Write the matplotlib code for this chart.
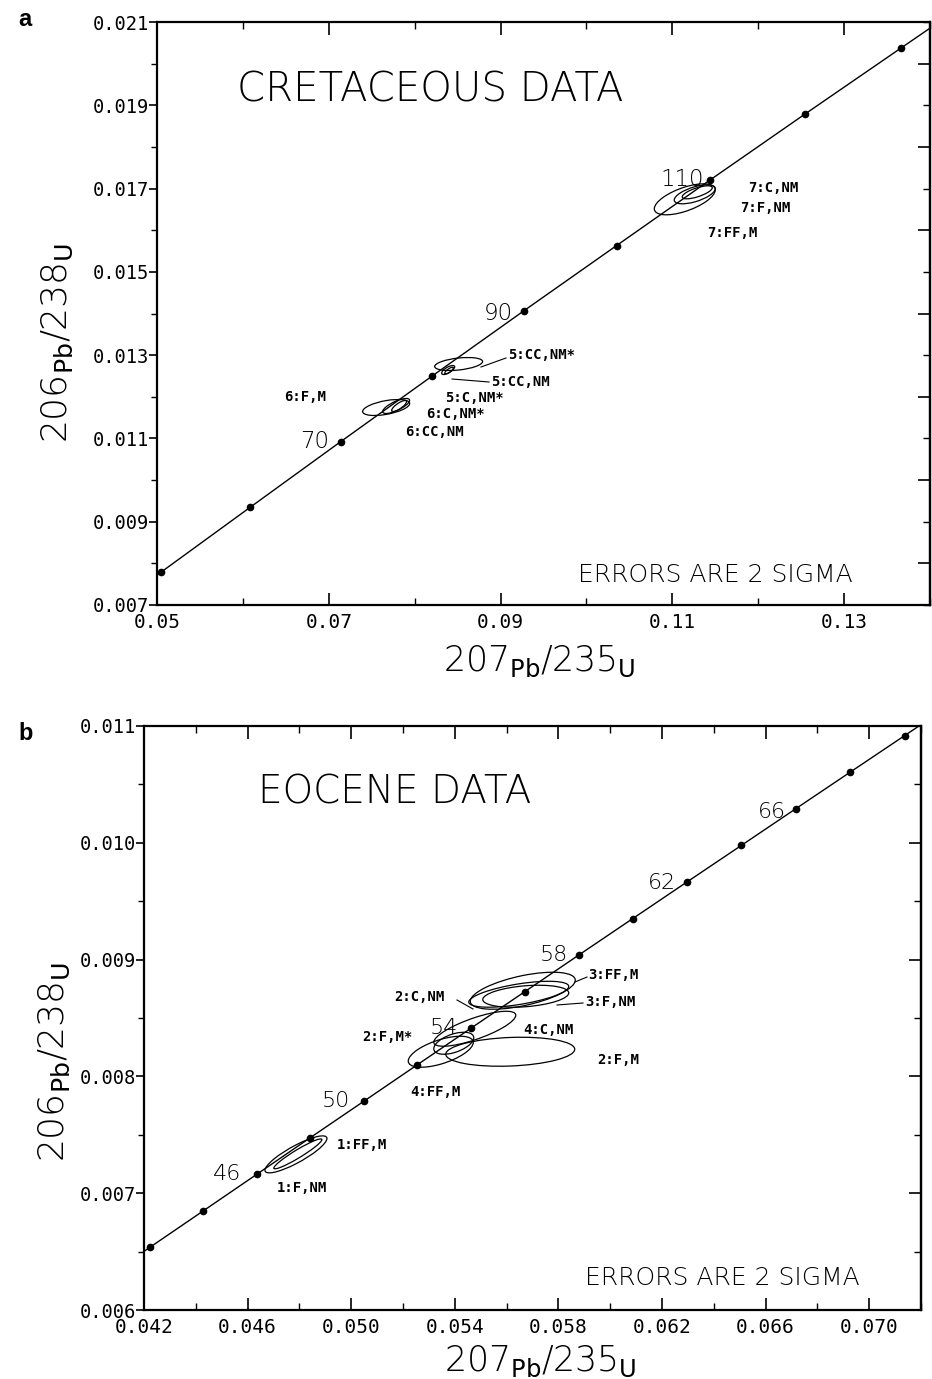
import numpy as np
import matplotlib
matplotlib.use("Agg")
import matplotlib.pyplot as plt
from matplotlib.patches import Ellipse
from matplotlib.lines import Line2D
from matplotlib.ticker import MultipleLocator, FormatStrFormatter

# concordia points (Ma, 207Pb/235U, 206Pb/238U)
ages_a = [40, 50, 60, 70, 80, 90, 100, 110, 120, 130, 140]
x_a = [0.04018, 0.05048, 0.06087, 0.07137, 0.08198, 0.09268, 0.10350, 0.11442, 0.12545, 0.13659, 0.14784]
y_a = [0.00622, 0.00779, 0.00935, 0.01092, 0.01249, 0.01406, 0.01563, 0.01721, 0.01879, 0.02037, 0.02196]

ages_b = [40, 42, 44, 46, 48, 50, 52, 54, 56, 58, 60, 62, 64, 66, 68, 70, 72]
x_b = [0.04018, 0.04223, 0.04429, 0.04635, 0.04841, 0.05048, 0.05255, 0.05462, 0.05670, 0.05878,
       0.06087, 0.06296, 0.06506, 0.06716, 0.06926, 0.07137, 0.07348]
y_b = [0.006224, 0.006537, 0.006849, 0.007161, 0.007474, 0.007786, 0.008099, 0.008412, 0.008725, 0.009038,
       0.009351, 0.009664, 0.009977, 0.010291, 0.010604, 0.010918, 0.011232]

# error ellipses: centre, 2-sigma half widths, correlation
ell_a_name = ["7:FF,M", "7:F,NM", "7:C,NM", "5:CC,NM*", "5:CC,NM", "5:C,NM*", "6:F,M", "6:C,NM*", "6:CC,NM"]
ell_a_x = [0.11145, 0.11261, 0.11290, 0.08512, 0.08390, 0.08400, 0.07668, 0.07784, 0.07819]
ell_a_y = [0.016742, 0.016862, 0.016910, 0.012787, 0.012643, 0.012630, 0.011743, 0.011779, 0.011779]
ell_a_sx = [0.00355, 0.00239, 0.00175, 0.00279, 0.00076, 0.00050, 0.00274, 0.00157, 0.00087]
ell_a_sy = [0.000372, 0.000228, 0.000156, 0.000156, 0.000108, 0.000080, 0.000192, 0.000180, 0.000132]
ell_a_rho = [0.61, 0.6, 0.7, 0.38, 0.7, 0.8, 0.5, 0.75, 0.8]

ell_b_name = ["3:FF,M", "2:C,NM", "3:F,NM", "4:C,NM", "2:F,M*", "4:FF,M", "2:F,M", "1:FF,M", "1:F,NM"]
ell_b_x = [0.056624, 0.056469, 0.05674, 0.054771, 0.05396, 0.053458, 0.056141, 0.047867, 0.04794]
ell_b_y = [0.0087334, 0.0087034, 0.0086863, 0.008408, 0.0082839, 0.0082111, 0.0082111, 0.0073325, 0.0073368]
ell_b_sx = [0.002027, 0.00193, 0.00166, 0.001583, 0.000772, 0.001255, 0.00249, 0.001197, 0.000927]
ell_b_sy = [0.0001584, 0.000111, 0.0000942, 0.0001498, 0.0000942, 0.0001327, 0.0001241, 0.0001584, 0.000128]
ell_b_rho = [0.57, 0.6, 0.3, 0.77, 0.5, 0.6, 0.17, 0.86, 0.95]

W, H = 932, 1379
mono = "DejaVu Sans Mono"

fig = plt.figure(figsize=(W / 100, H / 100), dpi=100)
ax_a = fig.add_axes([157 / W, 1 - 605 / H, 773 / W, 583 / H])
ax_b = fig.add_axes([144 / W, 1 - 1310 / H, 777 / W, 584 / H])


def draw_ellipses(ax, xs, ys, sxs, sys_, rhos):
    for x, y, sx, sy, r in zip(xs, ys, sxs, sys_, rhos):
        cov = np.array([[sx * sx, r * sx * sy], [r * sx * sy, sy * sy]])
        vals, vecs = np.linalg.eigh(cov)
        ang = np.degrees(np.arctan2(vecs[1, 1], vecs[0, 1]))
        e = Ellipse((x, y), 2 * np.sqrt(vals[1]), 2 * np.sqrt(vals[0]), angle=ang,
                    fill=False, lw=0.9, ec="black")
        ax.add_patch(e)


def style_axes(ax, xlim, ylim, xmaj, xmin, ymaj, ymin, xfmt, yfmt):
    ax.set_xlim(*xlim)
    ax.set_ylim(*ylim)
    ax.xaxis.set_major_locator(MultipleLocator(xmaj))
    ax.xaxis.set_minor_locator(MultipleLocator(xmin))
    ax.yaxis.set_major_locator(MultipleLocator(ymaj))
    ax.yaxis.set_minor_locator(MultipleLocator(ymin))
    ax.xaxis.set_major_formatter(FormatStrFormatter(xfmt))
    ax.yaxis.set_major_formatter(FormatStrFormatter(yfmt))
    ax.tick_params(axis="x", which="both", direction="in", top=True, bottom=True, pad=6)
    ax.tick_params(axis="x", which="major", length=9, width=1.2)
    ax.tick_params(axis="x", which="minor", length=5, width=1.0)
    ax.tick_params(axis="y", which="both", direction="out", left=True, right=False, pad=0)
    ax.tick_params(axis="y", which="major", length=6, width=1.2)
    ax.tick_params(axis="y", which="minor", length=4, width=1.0)
    for sp in ax.spines.values():
        sp.set_linewidth(1.6)
    sec = ax.secondary_yaxis("right")
    sec.yaxis.set_major_locator(MultipleLocator(ymaj))
    sec.yaxis.set_minor_locator(MultipleLocator(ymin))
    sec.tick_params(which="both", direction="in", labelright=False)
    sec.tick_params(which="major", length=9, width=1.2)
    sec.tick_params(which="minor", length=5, width=1.0)
    sec.spines["right"].set_linewidth(1.6)


def tick_font(ax):
    for lab in ax.get_xticklabels():
        lab.set_fontfamily(mono)
        lab.set_fontsize(14)
    for lab in ax.get_yticklabels():
        lab.set_fontfamily(mono)
        lab.set_fontsize(13.5)


def ftext(px, py, s, size=10, family=mono, weight="bold", ha="left", va="center"):
    fig.text(px / W, 1 - py / H, s, fontsize=size, family=family, weight=weight, ha=ha, va=va)


def leader(p0, p1):
    fig.add_artist(Line2D([p0[0] / W, p1[0] / W], [1 - p0[1] / H, 1 - p1[1] / H],
                          transform=fig.transFigure, color="black", lw=0.8))


xlab = "207$_{\\mathrm{Pb}}$/235$_{\\mathrm{U}}$"
ylab = "206$_{\\mathrm{Pb}}$/238$_{\\mathrm{U}}$"

# ---- panel a : Cretaceous
ax = ax_a
ax.plot(x_a, y_a, "-", color="black", lw=1.0)
ax.plot(x_a, y_a, "o", color="black", ms=4.5)
draw_ellipses(ax, ell_a_x, ell_a_y, ell_a_sx, ell_a_sy, ell_a_rho)
style_axes(ax, (0.05, 0.14), (0.007, 0.021), 0.02, 0.01, 0.002, 0.001, "%.2f", "%.3f")
ax.set_xticks([0.05, 0.07, 0.09, 0.11, 0.13])
ax.set_yticks([0.007, 0.009, 0.011, 0.013, 0.015, 0.017, 0.019, 0.021])
tick_font(ax)
ax.set_xlabel(xlab, fontsize=25, fontweight="light")
ax.set_ylabel(ylab, fontsize=26, fontweight="light")
ax.xaxis.set_label_coords(0.495, -0.066)
ax.yaxis.set_label_coords(-0.106, 0.45)

ftext(237, 90, "CRETACEOUS DATA", size=29, family="DejaVu Sans", weight="light")
ftext(578, 575, "ERRORS ARE 2 SIGMA", size=18, family="DejaVu Sans", weight="light")
ftext(660, 180, "110", size=16.5, family="DejaVu Sans", weight="light")
ftext(484, 313, "90", size=16.5, family="DejaVu Sans", weight="light")
ftext(300, 442, "70", size=16.5, family="DejaVu Sans", weight="light")
ftext(748, 188, "7:C,NM")
ftext(740, 208, "7:F,NM")
ftext(707, 233, "7:FF,M")
ftext(508, 355, "5:CC,NM*")
ftext(491, 382, "5:CC,NM")
ftext(445, 398, "5:C,NM*")
ftext(284, 397, "6:F,M")
ftext(426, 414, "6:C,NM*")
ftext(405, 432, "6:CC,NM")
leader((481, 367), (506, 358))
leader((452, 379), (489, 382))

# ---- panel b : Eocene
ax = ax_b
ax.plot(x_b, y_b, "-", color="black", lw=1.0)
ax.plot(x_b, y_b, "o", color="black", ms=4.5)
draw_ellipses(ax, ell_b_x, ell_b_y, ell_b_sx, ell_b_sy, ell_b_rho)
style_axes(ax, (0.042, 0.072), (0.006, 0.011), 0.004, 0.002, 0.001, 0.0005, "%.3f", "%.3f")
ax.set_xticks(np.arange(0.042, 0.0705, 0.004))
tick_font(ax)
ax.set_xlabel(xlab, fontsize=25, fontweight="light")
ax.set_ylabel(ylab, fontsize=26, fontweight="light")
ax.xaxis.set_label_coords(0.51, -0.058)
ax.yaxis.set_label_coords(-0.093, 0.425)

ftext(258, 793, "EOCENE DATA", size=28, family="DejaVu Sans", weight="light")
ftext(585, 1278, "ERRORS ARE 2 SIGMA", size=18, family="DejaVu Sans", weight="light")
for s, px, py in [("66", 758, 812), ("62", 648, 883), ("58", 540, 955),
                  ("54", 430, 1028), ("50", 322, 1101), ("46", 213, 1174)]:
    ftext(px, py, s, size=16, family="DejaVu Sans", weight="light")
ftext(588, 975, "3:FF,M")
ftext(585, 1002, "3:F,NM")
ftext(394, 997, "2:C,NM")
ftext(523, 1030, "4:C,NM")
ftext(362, 1037, "2:F,M*")
ftext(597, 1060, "2:F,M")
ftext(410, 1092, "4:FF,M")
ftext(337, 1145, "1:FF,M")
ftext(277, 1188, "1:F,NM")
leader((575, 982), (587, 977))
leader((557, 1005), (583, 1003))
leader((457, 1000), (473, 1009))

fig.text(18 / W, 1 - 20 / H, "a", fontsize=17, fontweight="bold", family="Liberation Sans", va="center")
fig.text(18 / W, 1 - 733 / H, "b", fontsize=17, fontweight="bold", family="Liberation Sans", va="center")

fig.savefig("out.png", dpi=100)
